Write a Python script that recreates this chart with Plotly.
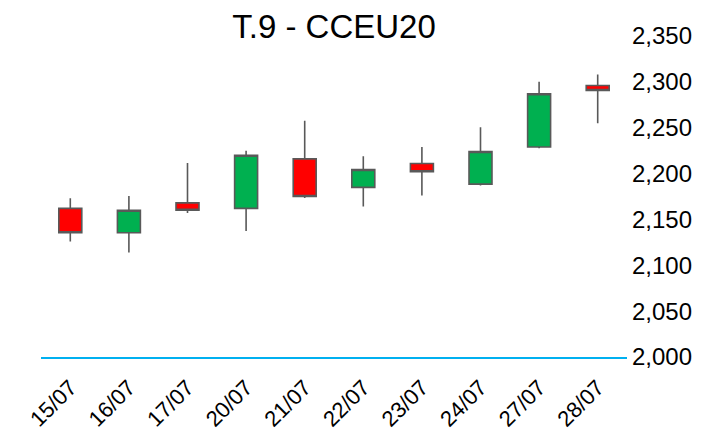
import plotly.graph_objects as go

dates = ["15/07", "16/07", "17/07", "20/07", "21/07", "22/07", "23/07", "24/07", "27/07", "28/07"]
open_ = [2162, 2135.5, 2168, 2162, 2216, 2185, 2211, 2188.5, 2229, 2296]
high = [2173, 2175.5, 2211.5, 2225, 2257.5, 2219, 2229, 2250.5, 2300, 2308]
low = [2126, 2114, 2157, 2137.5, 2173.5, 2164, 2176, 2187, 2227.5, 2255]
close = [2135.5, 2160, 2160, 2220, 2175, 2204.5, 2202, 2224, 2287, 2290.5]

title_text = "T.9 - CCEU20"
y_ticks = [2000, 2050, 2100, 2150, 2200, 2250, 2300, 2350]

fig = go.Figure(
    go.Candlestick(
        x=dates, open=open_, high=high, low=low, close=close,
        increasing=dict(line=dict(color="#595959", width=1.6), fillcolor="#00b050"),
        decreasing=dict(line=dict(color="#595959", width=1.6), fillcolor="#ff0000"),
        whiskerwidth=0,
        showlegend=False,
    )
)

fig.update_layout(
    width=706, height=437,
    paper_bgcolor="white", plot_bgcolor="white",
    margin=dict(l=41, r=79, t=36, b=80),
    font=dict(family="Liberation Sans, Arial, sans-serif", color="#000000"),
    title=dict(text=title_text, x=0.5, xref="paper", xanchor="center",
               y=1 - 26 / 437, yanchor="middle", font=dict(size=33, color="#000000")),
    boxgap=0.44,
    xaxis=dict(type="category", rangeslider=dict(visible=False), showgrid=False,
               showline=True, linecolor="#00b0f0", linewidth=2, ticks="",
               tickangle=-45, tickfont=dict(size=22), zeroline=False, automargin=False,
               ticklabelstandoff=7),
    yaxis=dict(side="right", range=[2000, 2350], tickvals=y_ticks, tickformat=",",
               showgrid=False, showline=False, zeroline=False, ticks="",
               tickfont=dict(size=24), automargin=False, ticklabelstandoff=4),
)

fig.write_html("out.html", config={"displayModeBar": False},
               post_script="document.body.style.margin='0px';")
